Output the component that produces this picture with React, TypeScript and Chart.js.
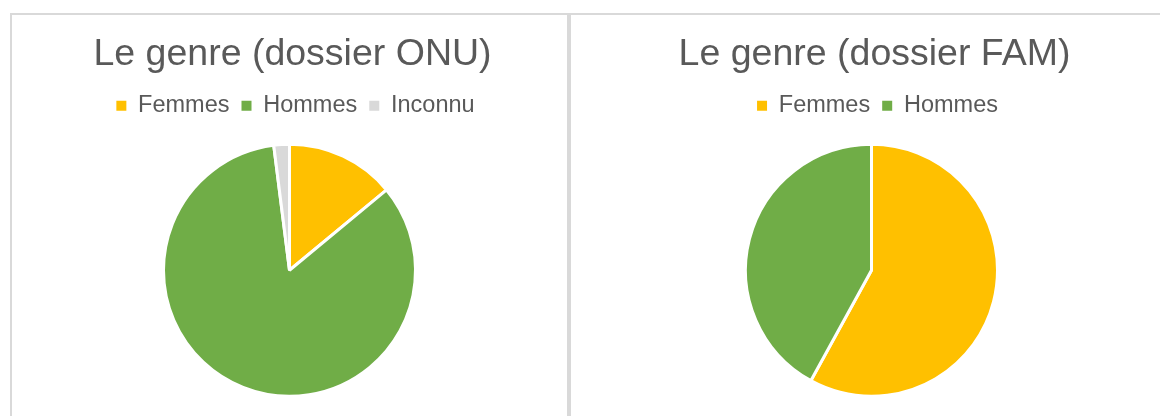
import React, { useEffect, useRef } from "react";
import { Chart, registerables } from "chart.js";

Chart.register(...registerables);

const leftTitle = "Le genre (dossier ONU)";
const leftLabels = ["Femmes", "Hommes", "Inconnu"];
const leftValues = [14, 84, 2];
const leftColors = ["#FFC000", "#70AD47", "#D9D9D9"];

const rightTitle = "Le genre (dossier FAM)";
const rightLabels = ["Femmes", "Hommes"];
const rightValues = [58, 42];
const rightColors = ["#FFC000", "#70AD47"];

const FONT = "'Liberation Sans', Arial, sans-serif";
const TEXT = "#595959";

const blockShift = {
  id: "blockShift",
  afterLayout(chart: any) {
    const lg = chart.legend;
    if (lg) {
      lg.left += 6;
      lg.right += 6;
    }
    const tb = chart.titleBlock;
    if (tb) {
      tb.left += 3;
      tb.right += 3;
    }
  },
};

type PieProps = {
  title: string;
  labels: string[];
  values: number[];
  colors: string[];
  width: number;
  height: number;
};

function PieChart({ title, labels, values, colors, width, height }: PieProps) {
  const ref = useRef<HTMLCanvasElement | null>(null);
  useEffect(() => {
    if (!ref.current) return;
    const chart = new Chart(ref.current, {
      type: "pie",
      data: {
        labels,
        datasets: [
          {
            data: values,
            backgroundColor: colors,
            borderColor: "#ffffff",
            borderWidth: 3,
            radius: 126,
          },
        ],
      },
      options: {
        responsive: false,
        animation: false,
        devicePixelRatio: 1,
        layout: { padding: { top: 0, bottom: 3, left: 0, right: 0 } },
        plugins: {
          tooltip: { enabled: false },
          title: {
            display: true,
            text: title,
            color: TEXT,
            font: { family: FONT, size: 37.5, weight: "normal", lineHeight: 1.2 },
            padding: { top: 17, bottom: 5 },
          },
          legend: {
            display: true,
            position: "top",
            labels: {
              color: TEXT,
              font: { family: FONT, size: 23.5 },
              boxWidth: 10,
              boxHeight: 10,
              padding: 12,
              generateLabels: (c: any) => {
                const base = (Chart as any).overrides.doughnut.plugins.legend.labels.generateLabels(c);
                return base.map((it: any) => ({ ...it, lineWidth: 0, strokeStyle: "rgba(0,0,0,0)" }));
              },
            },
          },
        },
      },
      plugins: [blockShift],
    } as any);
    return () => chart.destroy();
  }, []);
  return <canvas ref={ref} width={width} height={height} style={{ display: "block" }} />;
}

export default function App() {
  return (
    <div
      style={{
        position: "fixed",
        left: 0,
        top: 0,
        width: 1160,
        height: 416,
        overflow: "hidden",
        background: "#ffffff",
      }}
    >
      <div
        style={{
          position: "absolute",
          left: 10,
          top: 13,
          width: 559,
          height: 420,
          boxSizing: "border-box",
          border: "2px solid #d9d9d9",
          borderBottom: "none",
        }}
      >
        <PieChart
          title={leftTitle}
          labels={leftLabels}
          values={leftValues}
          colors={leftColors}
          width={555}
          height={401}
        />
      </div>
      <div
        style={{
          position: "absolute",
          left: 569,
          top: 13,
          width: 603,
          height: 420,
          boxSizing: "border-box",
          borderLeft: "2px solid #d9d9d9",
          borderTop: "2px solid #d9d9d9",
        }}
      >
        <PieChart
          title={rightTitle}
          labels={rightLabels}
          values={rightValues}
          colors={rightColors}
          width={601}
          height={401}
        />
      </div>
    </div>
  );
}
